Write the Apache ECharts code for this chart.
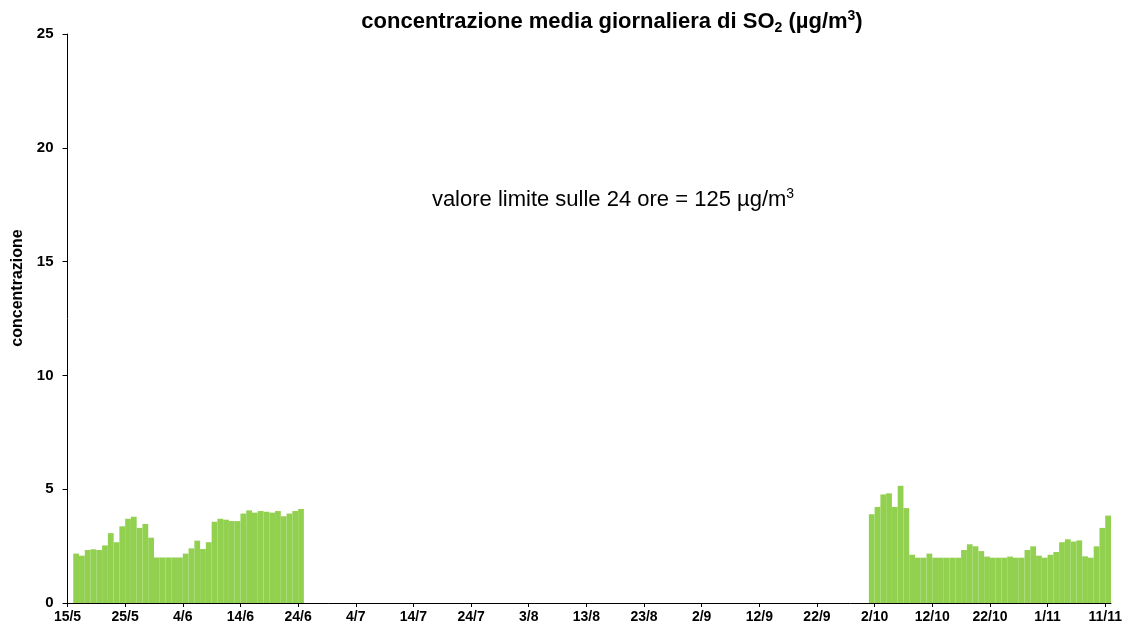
<!DOCTYPE html>
<html><head><meta charset="utf-8">
<script src="https://cdn.jsdelivr.net/npm/echarts@6/dist/echarts.min.js"></script>
<style>html,body{margin:0;padding:0;background:#fff}#c{width:1132px;height:631px}</style>
</head><body><div id="c"></div>
<script>
// x categories: every day from 15/5 to 11/11
const firstDay = [15, 5];
const lastDay = [11, 11];
const categories = [];
(function () {
  const d = new Date(2021, firstDay[1] - 1, firstDay[0]);
  const end = new Date(2021, lastDay[1] - 1, lastDay[0]);
  while (d <= end) { categories.push(d.getDate() + '/' + (d.getMonth() + 1)); d.setDate(d.getDate() + 1); }
})();

// tick labels every 10 days
const tickLabels = ['15/5','25/5','4/6','14/6','24/6','4/7','14/7','24/7','3/8','13/8','23/8','2/9','12/9','22/9','2/10','12/10','22/10','1/11','11/11'];

// daily SO2 values (µg/m³), first period 16/5 – 24/6
const period1Start = '16/5';
const period1 = [2.17,2.08,2.33,2.36,2.33,2.53,3.07,2.67,3.37,3.70,3.79,3.30,3.47,2.87,2.00,2.00,2.00,2.00,2.00,2.17,
                 2.40,2.74,2.37,2.67,3.57,3.70,3.66,3.60,3.60,3.93,4.07,3.97,4.04,4.01,3.97,4.04,3.81,3.93,4.04,4.13];
// second period 1/10 – 11/11
const period2Start = '1/10';
const period2 = [3.90,4.22,4.77,4.82,4.22,5.15,4.17,2.12,1.99,1.99,2.17,1.99,1.99,1.99,1.99,1.99,2.33,2.58,2.49,2.28,
                 2.04,1.99,1.99,1.99,2.04,1.99,1.99,2.33,2.49,2.08,1.99,2.12,2.24,2.67,2.80,2.70,2.75,2.05,1.99,2.49,3.30,3.84];

const values = categories.map(() => null);
[[period1Start, period1], [period2Start, period2]].forEach(([s, arr]) => {
  const i0 = categories.indexOf(s);
  arr.forEach((v, k) => { values[i0 + k] = v; });
});

const FONT = 'Liberation Sans, Arial, sans-serif';
const chart = echarts.init(document.getElementById('c'), null, { renderer: 'canvas' });
chart.setOption({
  animation: false,
  backgroundColor: '#fff',
  grid: { left: 67.5, right: 21, top: 34, bottom: 28, containLabel: false },
  xAxis: [
    { type: 'category', data: categories, boundaryGap: true, show: false },
    {
      type: 'value', min: 0, max: categories.length, position: 'bottom',
      axisLine: { show: true, lineStyle: { color: '#000', width: 1 } },
      axisTick: { show: true, inside: false, length: 4, lineStyle: { color: '#000' },
                  customValues: tickLabels.map((_, i) => i * 10) },
      axisLabel: { customValues: tickLabels.map((_, i) => i * 10),
                   formatter: v => tickLabels[Math.round(v / 10)] || '',
                   fontFamily: FONT, fontWeight: 'bold', fontSize: 14, color: '#000', margin: 7 },
      splitLine: { show: false }
    }
  ],
  yAxis: {
    type: 'value', min: 0, max: 25, interval: 5,
    axisLine: { show: true, lineStyle: { color: '#000', width: 1 } },
    axisTick: { show: true, inside: false, length: 5, lineStyle: { color: '#000' } },
    axisLabel: { fontFamily: FONT, fontWeight: 'bold', fontSize: 15, color: '#000', margin: 14 },
    splitLine: { show: false }
  },
  graphic: [
    { type: 'text', x: 612, y: 22,
      style: { text: '{b|concentrazione media giornaliera di SO}{s|2}{b| (µg/m}{p|3}{b|)}', align: 'center', verticalAlign: 'middle',
        rich: {
          b: { fontFamily: FONT, fontWeight: 'bold', fontSize: 22, fill: '#000', lineHeight: 26 },
          s: { fontFamily: FONT, fontWeight: 'bold', fontSize: 14, fill: '#000', verticalAlign: 'bottom', lineHeight: 26, padding: [9, 0, 0, 0] },
          p: { fontFamily: FONT, fontWeight: 'bold', fontSize: 14, fill: '#000', verticalAlign: 'top', lineHeight: 26, padding: [0, 0, 6, 0] }
        } } },
    { type: 'text', x: 18, y: 288, rotation: Math.PI / 2,
      style: { text: 'concentrazione', font: 'bold 16px ' + FONT, fill: '#000', align: 'center', verticalAlign: 'middle' } },
    { type: 'text', x: 613, y: 200,
      style: { text: '{n|valore limite sulle 24 ore = 125 µg/m}{p|3}', align: 'center', verticalAlign: 'middle',
        rich: {
          n: { fontFamily: FONT, fontSize: 22, fill: '#000', lineHeight: 26 },
          p: { fontFamily: FONT, fontSize: 14, fill: '#000', verticalAlign: 'top', lineHeight: 26, padding: [0, 0, 6, 0] }
        } } }
  ],
  series: [{
    type: 'bar', xAxisIndex: 0, data: values,
    barCategoryGap: '0%', barGap: '0%',
    itemStyle: { color: '#92D050' }
  }]
});
</script>
</body></html>
